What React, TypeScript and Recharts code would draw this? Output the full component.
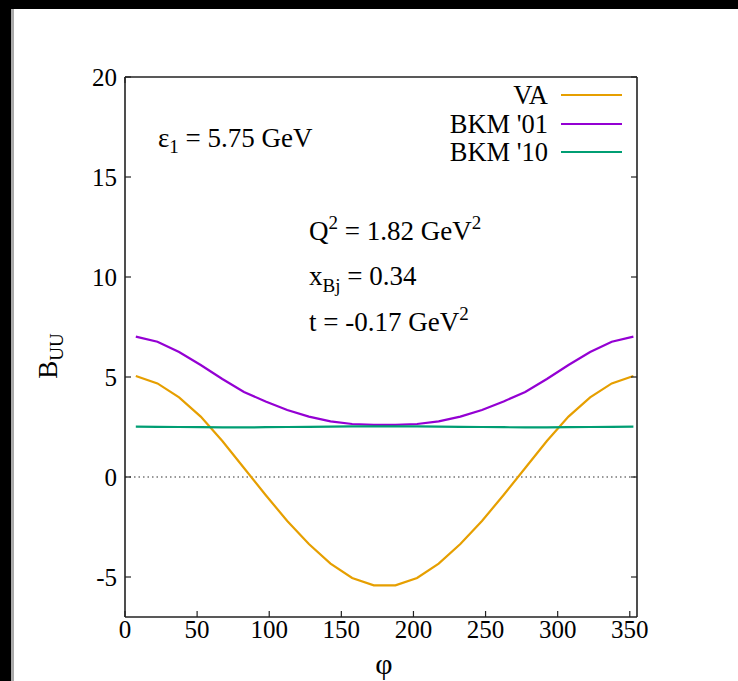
import React from 'react';
import {
  LineChart,
  Line,
  XAxis,
  YAxis,
  ReferenceLine,
  Legend,
  Customized,
} from 'recharts';

// phi bin centres (deg)
const phiValues = [
  7.5, 22.5, 37.5, 52.5, 67.5, 82.5, 97.5, 112.5, 127.5, 142.5, 157.5, 172.5,
  187.5, 202.5, 217.5, 232.5, 247.5, 262.5, 277.5, 292.5, 307.5, 322.5, 337.5, 352.5,
];

const vaValues = [
  5.05, 4.68, 3.98, 3.02, 1.8, 0.45, -0.9, -2.2, -3.35, -4.33, -5.05, -5.42,
  -5.42, -5.05, -4.33, -3.35, -2.2, -0.9, 0.45, 1.8, 3.02, 3.98, 4.68, 5.05,
];

const bkm01Values = [
  7.02, 6.76, 6.25, 5.6, 4.9, 4.25, 3.78, 3.35, 3.02, 2.78, 2.65, 2.61,
  2.61, 2.65, 2.78, 3.02, 3.35, 3.78, 4.25, 4.9, 5.6, 6.25, 6.76, 7.02,
];

const bkm10Values = [
  2.52, 2.51, 2.5, 2.49, 2.48, 2.48, 2.49, 2.5, 2.51, 2.52, 2.53, 2.53,
  2.53, 2.53, 2.52, 2.51, 2.5, 2.49, 2.48, 2.48, 2.49, 2.5, 2.51, 2.52,
];

const xTicks = [0, 50, 100, 150, 200, 250, 300, 350];
const yTicks = [-5, 0, 5, 10, 15, 20];

const seriesInfo = [
  { key: 'va', name: 'VA', color: '#E69F00' },
  { key: 'bkm01', name: "BKM '01", color: '#9400D3' },
  { key: 'bkm10', name: "BKM '10", color: '#009E73' },
];

const data = phiValues.map((phi, i) => ({
  phi,
  va: vaValues[i],
  bkm01: bkm01Values[i],
  bkm10: bkm10Values[i],
}));

const FONT = '"Liberation Serif", "Times New Roman", serif';
const tickStyle = { fontSize: 25, fill: '#000', fontFamily: FONT };
const axisLine = { stroke: '#222', strokeWidth: 1.6 };
const tickLine = { stroke: '#222', strokeWidth: 1.2 };

const CustomLegend = () => (
  <div style={{ fontFamily: FONT, fontSize: 26.5, color: '#000' }}>
    {seriesInfo.map((s) => (
      <div
        key={s.key}
        style={{ display: 'flex', alignItems: 'center', justifyContent: 'flex-end', height: 28.5 }}
      >
        <span style={{ lineHeight: '28px' }}>{s.name}</span>
        <span
          style={{
            display: 'inline-block',
            width: 61,
            height: 2,
            background: s.color,
            marginLeft: 13,
          }}
        />
      </div>
    ))}
  </div>
);

const Annotations = () => (
  <g fontFamily={FONT} fill="#000" fontSize={27}>
    <text x={158} y={147}>
      ε<tspan fontSize={19} dy={6}>1</tspan>
      <tspan dy={-6}> = 5.75 GeV</tspan>
    </text>
    <text x={309} y={240}>
      Q<tspan fontSize={19} dy={-11}>2</tspan>
      <tspan dy={11}> = 1.82 GeV</tspan>
      <tspan fontSize={19} dy={-11}>2</tspan>
    </text>
    <text x={309} y={285}>
      x<tspan fontSize={19} dy={7}>Bj</tspan>
      <tspan dy={-7}> = 0.34</tspan>
    </text>
    <text x={309} y={331}>
      t = -0.17 GeV<tspan fontSize={19} dy={-11}>2</tspan>
    </text>
    <text x={57} y={356} transform="rotate(-90 57 356)" textAnchor="middle">
      B<tspan fontSize={19} dy={6}>UU</tspan>
    </text>
    <text x={384} y={674} textAnchor="middle" fontSize={30}>
      φ
    </text>
  </g>
);

const App: React.FC = () => {
  return (
    <div
      style={{
        position: 'absolute',
        left: 0,
        top: 0,
        width: 738,
        height: 681,
        background: '#fff',
        overflow: 'hidden',
      }}
    >
      <div style={{ position: 'absolute', left: 0, top: 0, width: 738, height: 9, background: '#000' }} />
      <div style={{ position: 'absolute', left: 0, top: 0, width: 11, height: 681, background: '#000' }} />
      <div style={{ position: 'absolute', left: 11, top: 9, width: 3, height: 672, background: '#aaa' }} />
      <LineChart
        width={738}
        height={681}
        data={data}
        margin={{ top: 37, right: 41, left: 65, bottom: 24 }}
        style={{ position: 'absolute', left: 0, top: 0, fontFamily: FONT }}
      >
        <XAxis
          dataKey="phi"
          type="number"
          domain={[0, 355]}
          ticks={xTicks}
          allowDataOverflow
          tick={tickStyle}
          tickSize={-6}
          tickMargin={9}
          axisLine={axisLine}
          tickLine={tickLine}
          height={40}
          interval={0}
        />
        <XAxis
          xAxisId="top"
          orientation="top"
          type="number"
          domain={[0, 355]}
          ticks={xTicks}
          allowDataOverflow
          tickFormatter={() => ''}
          tickSize={-6}
          axisLine={axisLine}
          tickLine={tickLine}
          height={40}
          interval={0}
        />
        <YAxis
          type="number"
          domain={[-7, 20]}
          ticks={yTicks}
          allowDataOverflow
          tick={tickStyle}
          tickSize={-6}
          tickMargin={14}
          axisLine={axisLine}
          tickLine={tickLine}
          width={60}
          interval={0}
        />
        <YAxis
          yAxisId="right"
          orientation="right"
          type="number"
          domain={[-7, 20]}
          ticks={yTicks}
          allowDataOverflow
          tickFormatter={() => ''}
          tickSize={-6}
          axisLine={axisLine}
          tickLine={tickLine}
          width={60}
          interval={0}
        />
        <ReferenceLine y={0} stroke="#333" strokeWidth={1.2} strokeDasharray="1.5 3" />
        {seriesInfo.map((s) => (
          <Line
            key={s.key}
            dataKey={s.key}
            name={s.name}
            type="linear"
            stroke={s.color}
            strokeWidth={2.2}
            dot={false}
            isAnimationActive={false}
          />
        ))}
        <Legend
          content={<CustomLegend />}
          layout="horizontal"
          verticalAlign="middle"
          align="center"
          wrapperStyle={{ position: 'absolute', top: 81, left: 400, width: 222, right: 'auto', bottom: 'auto' }}
        />
        <Customized component={<Annotations />} />
      </LineChart>
    </div>
  );
};

export default App;
